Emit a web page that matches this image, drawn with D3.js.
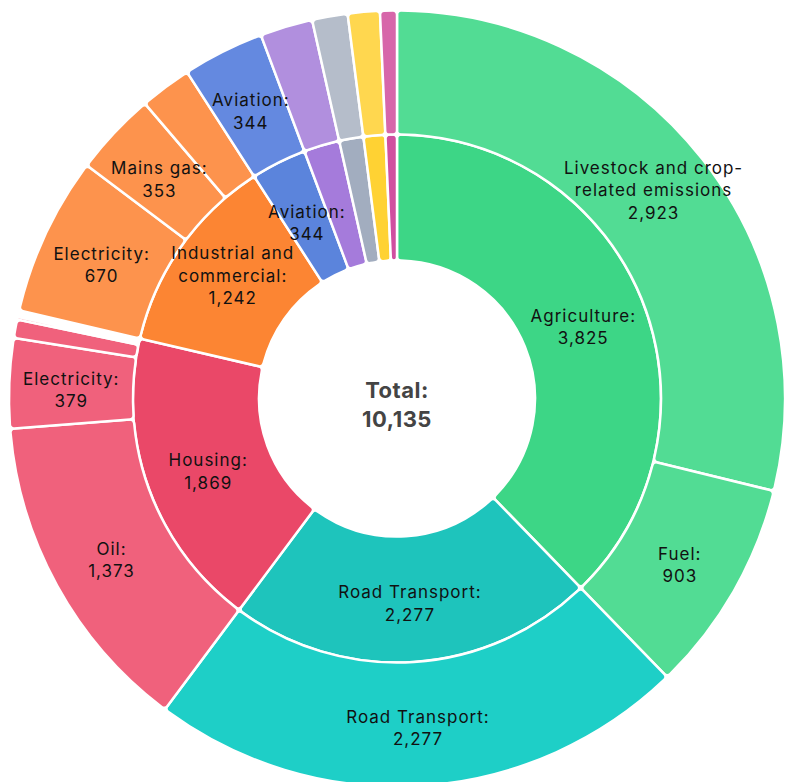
<!DOCTYPE html>
<html>
<head>
<meta charset="utf-8">
<script src="https://cdn.jsdelivr.net/npm/d3@7"></script>
<style>
    body { margin: 0; background: #fff; }
    svg text { font-family: Inter, "Open Sans", sans-serif; }
</style>
</head>
<body>
<div id="chart"></div>
<script>
// inner ring
const sectors = ['Agriculture', 'Road Transport', 'Housing', 'Industrial and commercial', 'Aviation', 'Waste', 'Rail', 'Shipping', 'Other'];
const sectorValues = [3825, 2277, 1869, 1242, 344, 222, 150, 135, 71];

// outer ring, each item points at its sector
const subSector = [0, 0, 1, 2, 2, 2, 2, 2, 2, 2, 3, 3, 3, 4, 5, 6, 7, 8];
const subNames = [
    'Livestock and crop-related emissions', 'Fuel',
    'Road Transport',
    'Oil', 'Electricity', 'Other heating', 'Coal', 'Wood', 'LPG', 'Other',
    'Electricity', 'Mains gas', 'Other fuels',
    'Aviation', 'Waste', 'Rail', 'Shipping', 'Other',
];
const subValues = [2923, 903, 2277, 1373, 379, 78, 12, 10, 9, 8, 670, 353, 219, 344, 222, 150, 135, 71];

const innerColors = ['#3dd686', '#1ec4bc', '#ea4868', '#fc8533', '#5b84dc', '#a57bdb', '#a2adbf', '#ffd233', '#d04fa0'];
const outerColors = ['#52dc94', '#1ecfc7', '#f0617c', '#fd934d', '#6489e0', '#b18fde', '#b5bdca', '#ffd74f', '#d766aa'];

const width = 785;
const height = 782;
const cx = 397;
const cy = 398.5;
const r0 = 138, r1 = 264, r2 = 388;
const fmt = d3.format(',');

const svg = d3.select('#chart').append('svg')
    .attr('width', width)
    .attr('height', height);
const main = svg.append('g')
    .attr('transform', `translate(${[cx, cy]})`);

const pie = d3.pie().sort(null).value(d => d.value);
const innerArcs = pie(sectors.map((name, i) => ({ name, value: sectorValues[i], i })));

// children split the angle of their parent
const outerArcs = [];
innerArcs.forEach((p, pi) => {
    const kids = subNames
        .map((name, i) => ({ name, value: subValues[i], parent: subSector[i] }))
        .filter(d => d.parent === pi);
    const sum = d3.sum(kids, d => d.value);
    const angle = d3.scaleLinear().domain([0, sum]).range([p.startAngle, p.endAngle]);
    let acc = 0;
    kids.forEach(k => {
        outerArcs.push({ data: k, startAngle: angle(acc), endAngle: angle(acc + k.value) });
        acc += k.value;
    });
});

const innerArc = d3.arc().innerRadius(r0).outerRadius(r1).cornerRadius(4);
const outerArc = d3.arc().innerRadius(r1).outerRadius(r2).cornerRadius(4);

main.selectAll('.inner')
    .data(innerArcs)
    .join('path')
    .attr('class', 'inner')
    .attr('d', innerArc)
    .attr('fill', d => innerColors[d.data.i])
    .attr('stroke', '#fff')
    .attr('stroke-width', 2.5);

main.selectAll('.outer')
    .data(outerArcs)
    .join('path')
    .attr('class', 'outer')
    .attr('d', outerArc)
    .attr('fill', d => outerColors[d.data.parent])
    .attr('stroke', '#fff')
    .attr('stroke-width', 2.5);

function wrap(name, max) {
    const words = name.replace(/-/g, '- ').split(' ');
    const lines = [];
    let line = '';
    words.forEach(w => {
        const sep = line === '' || line.endsWith('-') ? '' : ' ';
        if ((line + sep + w).length > max && line !== '') {
            lines.push(line);
            line = w;
        } else {
            line += sep + w;
        }
    });
    lines.push(line);
    return lines;
}

function labelLines(d) {
    const name = d.data.name;
    const lines = wrap(name.length > 30 ? name : name + ':', 19);
    lines.push(fmt(d.data.value));
    return lines;
}

// value line sits just under the centroid, name lines stack above it
function drawLabels(arcs, arcGen, cls) {
    const g = main.selectAll('.' + cls)
        .data(arcs.filter(d => d.data.value >= 300))
        .join('text')
        .attr('class', cls)
        .attr('text-anchor', 'middle')
        .attr('font-size', 17)
        .attr('letter-spacing', 1)
        .attr('fill', '#111')
        .attr('transform', d => `translate(${arcGen.centroid(d)})`);
    g.each(function (d) {
        const lines = labelLines(d);
        const n = lines.length;
        d3.select(this).selectAll('tspan')
            .data(lines)
            .join('tspan')
            .attr('x', 0)
            .attr('y', (l, i) => 15.5 - (n - 1 - i) * 22.5)
            .attr('dy', '0.35em')
            .text(l => l);
    });
}

drawLabels(innerArcs, innerArc, 'inner-label');
drawLabels(outerArcs, outerArc, 'outer-label');

main.append('text')
    .attr('text-anchor', 'middle')
    .attr('font-size', 22)
    .attr('font-weight', 'bold')
    .attr('letter-spacing', 0.5)
    .attr('fill', '#444')
    .selectAll('tspan')
    .data(['Total:', fmt(d3.sum(sectorValues))])
    .join('tspan')
    .attr('x', 0)
    .attr('y', (l, i) => -8 + i * 29)
    .attr('dy', '0.35em')
    .text(l => l);
</script>
</body>
</html>
